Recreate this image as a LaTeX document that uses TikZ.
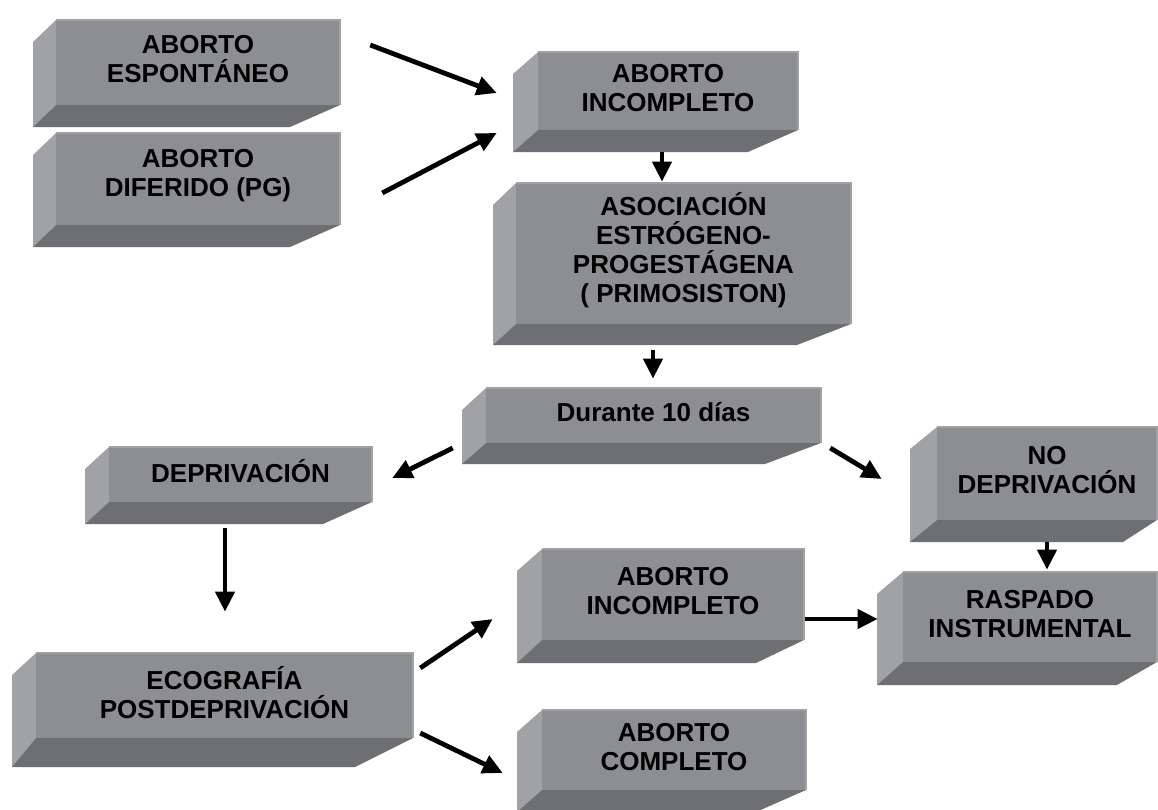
\documentclass[tikz,border=0pt]{standalone}
\usepackage{fontspec}
\setmainfont{Liberation Sans}
\usetikzlibrary{arrows.meta,calc}
\definecolor{frente}{HTML}{8D8E92}
\definecolor{lado}{HTML}{A0A2A5}
\definecolor{fondo}{HTML}{6E6F73}
\tikzset{
  caja/.style={inner sep=0pt, align=center, text=black,
    font=\fontsize{19.5pt}{21.75pt}\selectfont\bfseries},
}
% #1 nombre, #2-#5 cara frontal, #6 #7 #8 profundidad, #9 texto
\newcommand{\caja}[9]{%
  \fill[lado] (#2,#3) -- (#2-#6,#3+22) -- (#2-#6,#5+#8) -- (#2,#5) -- cycle;
  \fill[fondo] (#2,#5) -- (#2-#6,#5+#8) -- (#4-#7,#5+#8) -- (#4,#5) -- cycle;
  \fill[frente] (#2,#3) rectangle (#4,#5);
  \draw[lado, line width=0.8pt] (#2,#3) -- (#4,#3) -- (#4,#5);
  \node[caja, minimum width={(#4-#2)*0.75pt}, minimum height={(#5-#3)*0.75pt}]
    (#1) at ({(#2+#4)/2},{(#3+#5)/2-3}) {#9};
}
\begin{document}
\begin{tikzpicture}[x=0.75pt,y=-0.75pt]
        \useasboundingbox (0,0) rectangle (1158,810);
        \clip (0,0) rectangle (1158,810);
        \caja{espontaneo}{56}{20}{340}{105}{23}{50}{22}{ABORTO\\ESPONTÁNEO}
        \caja{diferido}{56}{133}{340}{225}{23}{50}{22}{ABORTO\\DIFERIDO (PG)}
        \caja{incompleto}{538}{52}{798}{130}{25}{50}{22}{ABORTO\\INCOMPLETO}
        \caja{asociacion}{516}{183}{851}{324}{23}{54}{21}{ASOCIACIÓN\\ESTRÓGENO-\\PROGESTÁGENA\\( PRIMOSISTON)}
        \caja{diez}{486}{388}{821}{443}{24}{56}{21}{Durante 10 días}
        \caja{depriv}{109}{447}{372}{502}{24}{49}{22}{DEPRIVACIÓN}
        \caja{nodepriv}{937}{427}{1157}{520}{27}{34}{22}{NO\\DEPRIVACIÓN}
        \caja{raspado}{903}{572}{1157}{662}{26}{40}{23}{RASPADO\\INSTRUMENTAL}
        \caja{ecografia}{36}{653}{413}{738}{24}{58}{29}{ECOGRAFÍA\\POSTDEPRIVACIÓN}
        \caja{incompletob}{542}{549}{804}{640}{25}{48}{23}{ABORTO\\INCOMPLETO}
        \caja{completo}{542}{710}{806}{790}{25}{50}{22}{ABORTO\\COMPLETO}
        \begin{scope}[every edge/.style={draw,line width=3.6pt,-{Triangle[length=15pt,width=14pt]}}]
            \path
                ($(espontaneo.east)+(30,-14.5)$) edge ($(incompleto.west)+(-41,5)$)
                ($(diferido.east)+(42,17)$) edge ($(incompleto.west)+(-41,45)$)
                ($(incompleto.south)+(-6,25)$) edge ($(asociacion.north)+(-21.5,2)$)
                ($(asociacion.south)+(-30.5,29)$) edge ($(diez.north)+(-0.5,-6)$)
                ($(diez.west)+(-33,35.5)$) edge ($(depriv.east)+(20,6.5)$)
                ($(diez.east)+(9,35.5)$) edge ($(nodepriv.west)+(-55,8.5)$)
                ($(depriv.south)+(-15.5,29)$) edge ($(ecografia.north)+(0.5,-38)$)
                ($(nodepriv.south)+(0,25)$) edge ($(raspado.north)+(17,1)$)
                ($(ecografia.east)+(7,-24.5)$) edge ($(incompletob.west)+(-49,27.5)$)
                ($(ecografia.east)+(7,40.5)$) edge ($(completo.west)+(-39,26)$)
                ($(incompletob.east)+(1,27.5)$) edge ($(raspado.west)+(-25,5)$);
        \end{scope}
\end{tikzpicture}
\end{document}
